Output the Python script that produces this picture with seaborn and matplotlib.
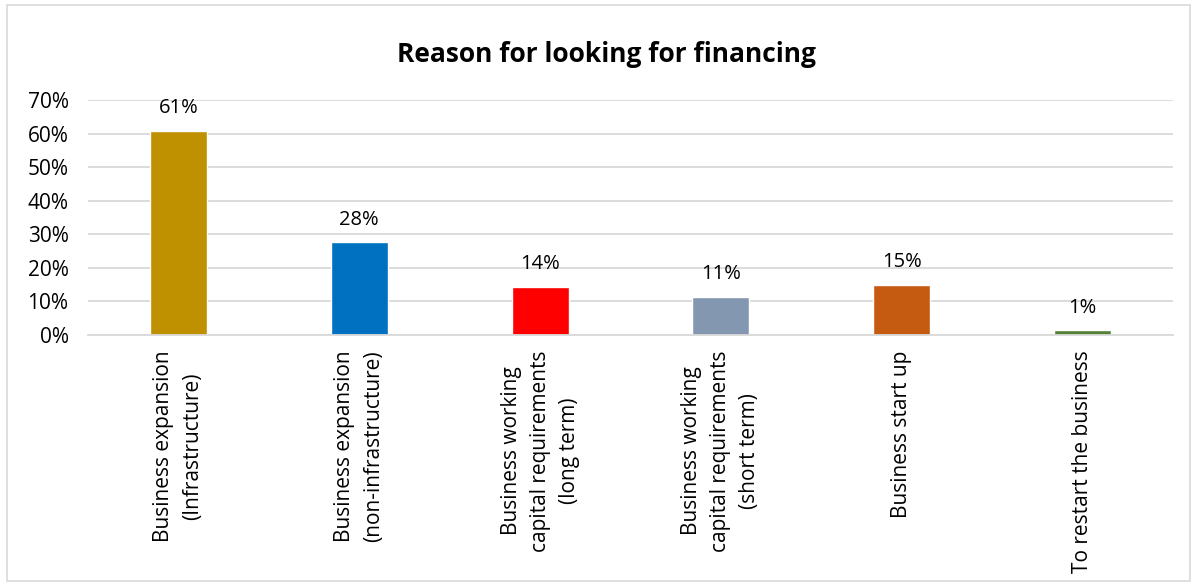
import matplotlib
matplotlib.use("Agg")
import matplotlib.pyplot as plt
import matplotlib.patches as mpatches
from matplotlib.ticker import FuncFormatter, MultipleLocator
import seaborn as sns
import pandas as pd

categories = [
    "Business expansion\n(Infrastructure)",
    "Business expansion\n(non-infrastructure)",
    "Business working\ncapital requirements\n(long term)",
    "Business working\ncapital requirements\n(short term)",
    "Business start up",
    "To restart the business",
]
values = [60.8, 27.7, 14.3, 11.4, 14.9, 1.4]
colors = ["#BF9000", "#0070C0", "#FF0000", "#8497B0", "#C55A11", "#548235"]

sns.set_theme(style="white")
plt.rcParams["font.family"] = ["Open Sans", "DejaVu Sans"]

df = pd.DataFrame({"reason": categories, "share": values})

fig = plt.figure(figsize=(11.97, 5.86), dpi=100)
ax = fig.add_axes([0.0735, 0.4283, 0.9065, 0.4011])

sns.barplot(data=df, x="reason", y="share", hue="reason", palette=colors,
            width=0.315, legend=False, ax=ax, saturation=1)

ax.set_ylim(0, 70)
ax.yaxis.set_major_locator(MultipleLocator(10))
ax.yaxis.set_major_formatter(FuncFormatter(lambda v, _: f"{v:.0f}%"))
ax.grid(axis="y", color="#D9D9D9", linewidth=1.3)
ax.set_axisbelow(True)
for side in ["top", "right", "left"]:
    ax.spines[side].set_visible(False)
ax.spines["bottom"].set_color("#D9D9D9")
ax.spines["bottom"].set_linewidth(1.3)
ax.set_xlim(-0.5, len(categories) - 0.5)

ax.set_xlabel("")
ax.set_ylabel("")
ax.tick_params(axis="both", length=0, colors="#000000")
ax.tick_params(axis="y", pad=14, labelsize=15)
ax.tick_params(axis="x", pad=11)
ax.set_xticks(range(len(categories)))
ax.set_xticklabels(categories, rotation=90, ha="center", va="top",
                   multialignment="center", fontsize=15, linespacing=1.5)

for container in ax.containers:
    ax.bar_label(container, labels=[f"{v:.0f}%" for v in container.datavalues],
                 padding=9, fontsize=14.5, color="#000000")

fig.suptitle("Reason for looking for financing", x=0.507, y=0.93,
             fontsize=19, fontweight="bold", color="#000000")

fig.patches.append(mpatches.Rectangle((0.006, 0.008), 0.988, 0.984,
                                      transform=fig.transFigure, fill=False,
                                      edgecolor="#D9D9D9", linewidth=1.2))

fig.savefig("out.png", dpi=100)
